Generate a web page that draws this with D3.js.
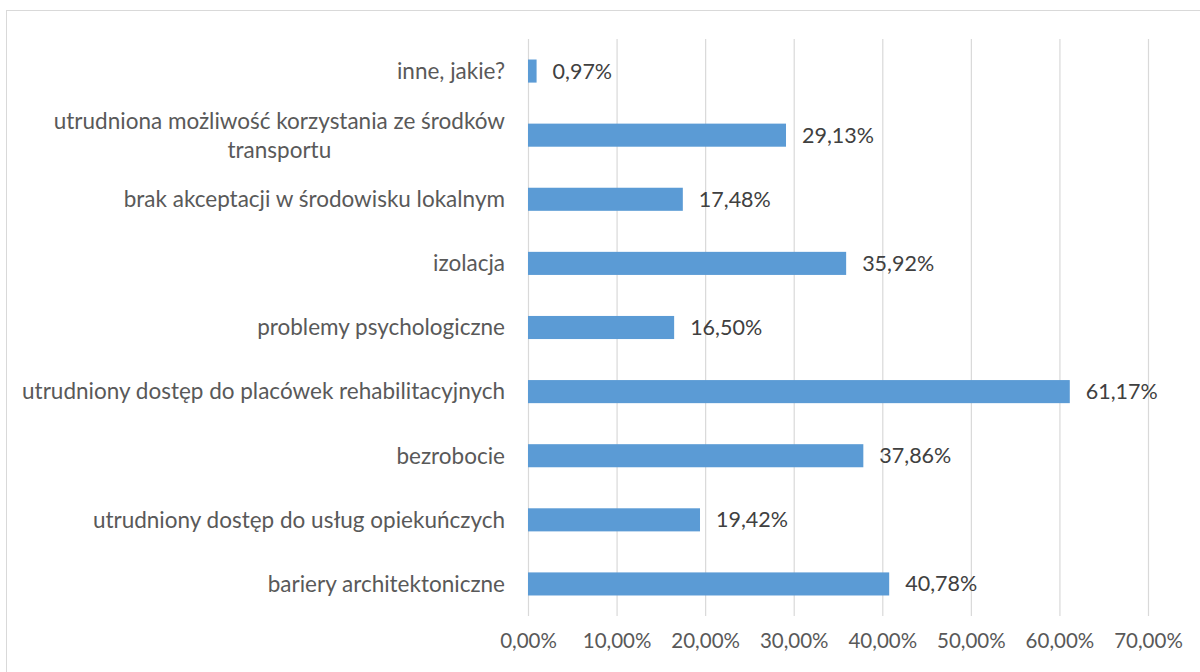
<!DOCTYPE html>
<html>
<head>
<meta charset="utf-8">
<script src="https://cdn.jsdelivr.net/npm/d3@7"></script>
<style>
  body { margin: 0; background: #fff; }
  svg text { font-family: Lato, "Open Sans", sans-serif; }
</style>
</head>
<body>
<script>
// chart data, top to bottom as in the picture
var categories = [
  "inne, jakie?",
  "utrudniona możliwość korzystania ze środków\ntransportu",
  "brak akceptacji w środowisku lokalnym",
  "izolacja",
  "problemy psychologiczne",
  "utrudniony dostęp do placówek rehabilitacyjnych",
  "bezrobocie",
  "utrudniony dostęp do usług opiekuńczych",
  "bariery architektoniczne"
];
var values = [0.97, 29.13, 17.48, 35.92, 16.50, 61.17, 37.86, 19.42, 40.78];
var tickValues = [0, 10, 20, 30, 40, 50, 60, 70];

var width = 1200, height = 672;
var margin = {top: 39, right: 52, bottom: 56, left: 528};

var fmt = function(v) { return v.toFixed(2).replace(".", ",") + "%"; };

var svg = d3.select("body")
    .append("svg")
    .attr("width", width)
    .attr("height", height);

// outer frame
svg.append("rect")
    .attr("x", 6.5)
    .attr("y", 10.5)
    .attr("width", 1200)
    .attr("height", 700)
    .attr("fill", "none")
    .attr("stroke", "#d9d9d9");

var x = d3.scaleLinear()
    .domain([0, 70])
    .range([margin.left, width - margin.right]);

var y = d3.scaleBand()
    .domain(categories)
    .range([margin.top, height - margin.bottom])
    .paddingInner(0.64)
    .paddingOuter(0.32);

// gridlines
svg.append("g")
    .selectAll("line")
    .data(tickValues)
    .enter().append("line")
    .attr("x1", function(d) { return x(d) + 0.5; })
    .attr("x2", function(d) { return x(d) + 0.5; })
    .attr("y1", margin.top)
    .attr("y2", height - margin.bottom)
    .attr("stroke", "#d9d9d9")
    .attr("stroke-width", 1.2);

// x tick labels
var xAxis = svg.append("g")
    .attr("transform", "translate(0," + (height - margin.bottom) + ")")
    .call(d3.axisBottom(x)
        .tickValues(tickValues)
        .tickSize(0)
        .tickPadding(17)
        .tickFormat(fmt));
xAxis.select(".domain").remove();
xAxis.selectAll("text")
    .attr("font-size", 20.5)
    .attr("fill", "#595959")
    .style("font-family", "Lato, sans-serif");

// bars
svg.append("g")
    .selectAll("rect")
    .data(values)
    .enter().append("rect")
    .attr("x", x(0))
    .attr("y", function(d, i) { return y(categories[i]); })
    .attr("width", function(d) { return x(d) - x(0); })
    .attr("height", y.bandwidth())
    .attr("fill", "#5b9bd5");

// data labels
svg.append("g")
    .selectAll("text")
    .data(values)
    .enter().append("text")
    .attr("x", function(d) { return x(d) + 16; })
    .attr("y", function(d, i) { return y(categories[i]) + y.bandwidth() / 2; })
    .attr("dy", "0.35em")
    .attr("font-size", 21.5)
    .attr("fill", "#404040")
    .text(function(d) { return fmt(d); });

// category labels (multi-line ones centred on each other, block right-aligned)
var catSize = 22.5;
var catG = svg.append("g");
categories.forEach(function(c, i) {
  var lines = c.split("\n");
  var cy = y(c) + y.bandwidth() / 2;
  var lh = 29;
  var t = catG.append("text")
      .attr("font-size", catSize)
      .attr("fill", "#595959")
      .attr("text-anchor", "end")
      .attr("x", x(0) - 23);
  if (lines.length == 1) {
    t.attr("y", cy).attr("dy", "0.35em").text(c);
  } else {
    // measure the longest line, then centre every line in that block
    var probe = catG.append("text").attr("font-size", catSize).text(lines[0]);
    var w = d3.max(lines, function(l) { probe.text(l); return probe.node().getComputedTextLength(); });
    probe.remove();
    t.attr("text-anchor", "middle");
    lines.forEach(function(l, k) {
      t.append("tspan")
        .attr("x", x(0) - 23 - w / 2)
        .attr("y", cy + (k - (lines.length - 1) / 2) * lh)
        .attr("dy", "0.35em")
        .text(l);
    });
  }
});
</script>
</body>
</html>
